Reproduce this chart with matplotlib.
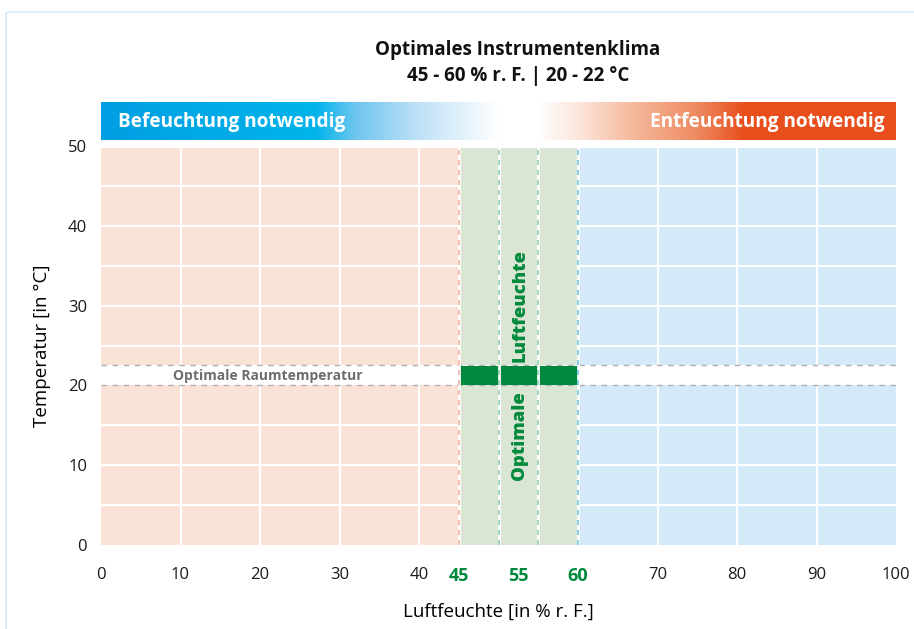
import numpy as np
import matplotlib
matplotlib.use('Agg')
import matplotlib.pyplot as plt
from matplotlib.patches import Rectangle, FancyBboxPatch

plt.rcParams['font.family'] = ['Open Sans', 'DejaVu Sans']

# Daten
zone_edges = [0, 45, 60, 100]              # Luftfeuchte-Zonen
zone_colors = ['#FBE2D7', '#DAE5D3', '#D4EAF8']
hum_opt = (45, 60)                          # optimale Luftfeuchte
temp_opt = (20, 22.5)                       # optimale Raumtemperatur (Band)
hum_lines = [45, 50, 55, 60]
hum_line_colors = ['#F2B3A4', '#8FD1AD', '#8FD1AD', '#6CC7EA']
x_ticks = [0, 10, 20, 30, 40, 70, 80, 90, 100]
x_green_ticks = [45, 52.5, 60]
x_green_labels = ['45', '55', '60']
y_ticks = [0, 10, 20, 30, 40, 50]
grid_x = [10, 20, 30, 40, 70, 80, 90]
grid_y = [5, 10, 15, 25, 30, 35, 40, 45]
y_top = 49.75

# Verlauf des Banners (Position in %, Farbe)
grad_pos = [0, 27, 32, 40, 50, 55, 60, 68, 75, 81, 100]
grad_col = ['#009FE3', '#00B4EB', '#6FC5EF', '#BFE1F7', '#FFFFFF', '#FFFFFF',
            '#FCE6DC', '#F4B293', '#EE8A62', '#E94E1B', '#E84E1B']

GREEN = '#00893C'

fig = plt.figure(figsize=(9.14, 6.29), dpi=100)

# heller Rahmen
fig.patches.append(FancyBboxPatch((6 / 914, -0.05), 1.0, 1 - 12 / 629 + 0.05,
                                  boxstyle='round,pad=0,rounding_size=0.004',
                                  transform=fig.transFigure, fill=False,
                                  edgecolor='#D5ECF8', linewidth=1.2))

ax = fig.add_axes([101 / 914, 1 - 545 / 629, 795 / 914, 399 / 629])
ax.set_xlim(0, 100)
ax.set_ylim(0, 50)
for s in ax.spines.values():
    s.set_visible(False)

# Zonen (ohne Temperaturband)
for i in range(3):
    x0, x1 = zone_edges[i], zone_edges[i + 1]
    for y0, y1 in [(0, temp_opt[0]), (temp_opt[1], y_top)]:
        ax.add_patch(Rectangle((x0, y0), x1 - x0, y1 - y0,
                               facecolor=zone_colors[i], edgecolor='none', zorder=1))

# weiße Gitterlinien
for gx in grid_x:
    for y0, y1 in [(0, temp_opt[0]), (temp_opt[1], y_top)]:
        ax.plot([gx, gx], [y0, y1], color='white', lw=1.5, zorder=2)
for gy in grid_y:
    for x0, x1 in [(0, hum_opt[0]), (hum_opt[1], 100)]:
        ax.plot([x0, x1], [gy, gy], color='white', lw=1.5, zorder=2)

# Temperaturband
for ty in temp_opt:
    ax.plot([0, 100], [ty, ty], color='#B0B0B0', lw=1, ls=(0, (4, 4)), zorder=3)
ax.add_patch(Rectangle((hum_opt[0], temp_opt[0] + 0.1), hum_opt[1] - hum_opt[0],
                       temp_opt[1] - temp_opt[0] - 0.2, facecolor=GREEN,
                       edgecolor='none', zorder=3))
ax.text(21, 21.2, 'Optimale Raumtemperatur', color='#6E6E6E', fontsize=10,
        fontweight='bold', ha='center', va='center', zorder=4)

# Feuchte-Linien (weiß mit farbigen Strichen)
for hx, hc in zip(hum_lines, hum_line_colors):
    ax.plot([hx, hx], [0, y_top], color='white', lw=2, zorder=4)
    ax.plot([hx, hx], [0, y_top], color=hc, lw=1.2, ls=(0, (3, 3)), zorder=5)

ax.text(52.7, 30, 'Luftfeuchte', color=GREEN, fontsize=13.3, fontweight='extra bold',
        rotation=90, ha='center', va='center', zorder=6)
ax.text(52.7, 13.7, 'Optimale', color=GREEN, fontsize=13.3, fontweight='extra bold',
        rotation=90, ha='center', va='center', zorder=6)

# Achsen
ax.tick_params(length=0, labelsize=12, colors='#1A1A1A', pad=16)
ax.tick_params(axis='y', pad=10)
ax.set_xticks(x_ticks + x_green_ticks)
ax.set_xticklabels([str(t) for t in x_ticks] + x_green_labels)
for lab in ax.get_xticklabels()[len(x_ticks):]:
    lab.set_color(GREEN)
    lab.set_fontweight('bold')
    lab.set_fontsize(13)
ax.set_yticks(y_ticks)
ax.set_xlabel('Luftfeuchte [in % r. F.]', fontsize=13.5, labelpad=13)
ax.set_ylabel('Temperatur [in °C]', fontsize=13.5, labelpad=12)

# Banner mit Farbverlauf
bx = fig.add_axes([101 / 914, 1 - 140 / 629, 795 / 914, 38 / 629])
xs = np.linspace(0, 100, 800)
rgb = np.array([matplotlib.colors.to_rgb(c) for c in grad_col])
img = np.stack([np.interp(xs, grad_pos, rgb[:, k]) for k in range(3)], axis=-1)
bx.imshow(img[np.newaxis, :, :], aspect='auto', extent=[0, 100, 0, 1])
bx.set_xlim(0, 100)
bx.set_ylim(0, 1)
bx.axis('off')
bx.text(2.1, 0.47, 'Befeuchtung notwendig', color='white', fontsize=13.7,
        fontweight='bold', ha='left', va='center')
bx.text(98.6, 0.47, 'Entfeuchtung notwendig', color='white', fontsize=13.7,
        fontweight='bold', ha='right', va='center')

# Titel
fig.text(518 / 914, 1 - 50 / 629, 'Optimales Instrumentenklima', fontsize=13.5,
         fontweight='bold', ha='center', va='center', color='#111111')
fig.text(518 / 914, 1 - 76 / 629, '45 - 60 % r. F. | 20 - 22 °C', fontsize=13.5,
         fontweight='bold', ha='center', va='center', color='#111111')

fig.savefig('out.png', dpi=100)
